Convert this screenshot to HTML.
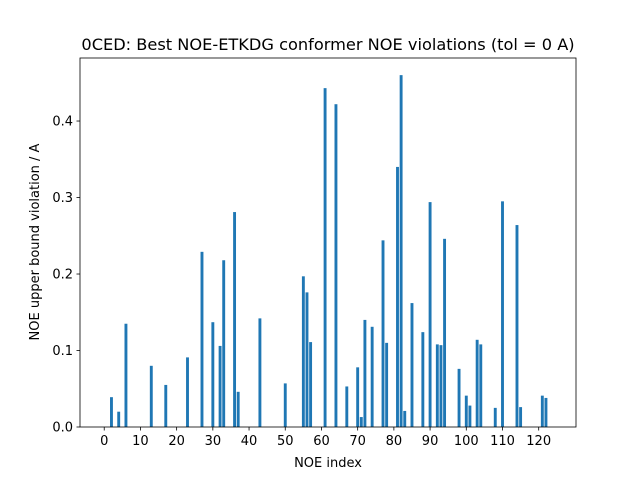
<!DOCTYPE html>
<html><head><meta charset="utf-8"><style>
body{margin:0;background:#fff;}
svg{display:block;font-family:"DejaVu Sans","Liberation Sans",sans-serif;}
</style></head><body>
<svg id="chart" width="640" height="480">
<rect width="640" height="480" fill="#fff"/>
<text x="328" y="50" font-size="16.2" text-anchor="middle">0CED: Best NOE-ETKDG conformer NOE violations (tol = 0 A)</text>
<g id="bars"></g>
<g id="axes"></g>
<text x="328" y="467" font-size="13" text-anchor="middle">NOE index</text>
<text transform="translate(39,242) rotate(-90)" font-size="13" text-anchor="middle">NOE upper bound violation / A</text>
</svg>
<script>
const indices = [2,4,6,13,17,23,27,30,32,33,36,37,43,50,55,56,57,61,64,67,70,71,72,74,77,78,81,82,83,85,88,90,92,93,94,98,100,101,103,104,108,110,114,115,121,122];
const violations = [0.039,0.02,0.135,0.08,0.055,0.091,0.229,0.137,0.106,0.218,0.281,0.046,0.142,0.057,0.197,0.176,0.111,0.443,0.422,0.053,0.078,0.013,0.14,0.131,0.244,0.11,0.34,0.46,0.021,0.162,0.124,0.294,0.108,0.107,0.246,0.076,0.041,0.028,0.114,0.108,0.025,0.295,0.264,0.026,0.041,0.038];
const xTicks = [0,10,20,30,40,50,60,70,80,90,100,110,120];
const yTicks = [0.0,0.1,0.2,0.3,0.4];
const L=80,R=576,T=58,B=427;
const xMin=-6.69,xMax=130.3,yMax=0.4824;
const xs=v=>L+(v-xMin)/(xMax-xMin)*(R-L);
const ys=v=>B-v/yMax*(B-T);
const NS="http://www.w3.org/2000/svg";
const bars=document.getElementById('bars');
indices.forEach((ix,i)=>{
  const r=document.createElementNS(NS,'rect');
  const x0=xs(ix-0.4),x1=xs(ix+0.4);
  r.setAttribute('x',x0);r.setAttribute('width',x1-x0);
  r.setAttribute('y',ys(violations[i]));r.setAttribute('height',B-ys(violations[i]));
  r.setAttribute('fill','#1f77b4');
  
  
  bars.appendChild(r);
});
const ax=document.getElementById('axes');
const fr=document.createElementNS(NS,'rect');
fr.setAttribute('x',L);fr.setAttribute('y',T);fr.setAttribute('width',R-L);fr.setAttribute('height',B-T);
fr.setAttribute('fill','none');fr.setAttribute('stroke','#000');fr.setAttribute('stroke-width','0.8');


ax.appendChild(fr);
xTicks.forEach(t=>{
  const x=xs(t);
  const l=document.createElementNS(NS,'line');
  l.setAttribute('x1',x);l.setAttribute('x2',x);l.setAttribute('y1',B);l.setAttribute('y2',B+3.5);
  l.setAttribute('stroke','#000');l.setAttribute('stroke-width','0.8');
  
  
  ax.appendChild(l);
  const tx=document.createElementNS(NS,'text');
  tx.setAttribute('x',x);tx.setAttribute('y',B+18);tx.setAttribute('font-size','13');tx.setAttribute('text-anchor','middle');
  tx.textContent=t;
  
  
  ax.appendChild(tx);
});
yTicks.forEach(t=>{
  const y=ys(t);
  const l=document.createElementNS(NS,'line');
  l.setAttribute('x1',L-3.5);l.setAttribute('x2',L);l.setAttribute('y1',y);l.setAttribute('y2',y);
  l.setAttribute('stroke','#000');l.setAttribute('stroke-width','0.8');
  
  
  ax.appendChild(l);
  const tx=document.createElementNS(NS,'text');
  tx.setAttribute('x',L-7);tx.setAttribute('y',y+4.5);tx.setAttribute('font-size','13');tx.setAttribute('text-anchor','end');
  tx.textContent=t.toFixed(1);
  
  
  ax.appendChild(tx);
});
</script>
</body></html>
